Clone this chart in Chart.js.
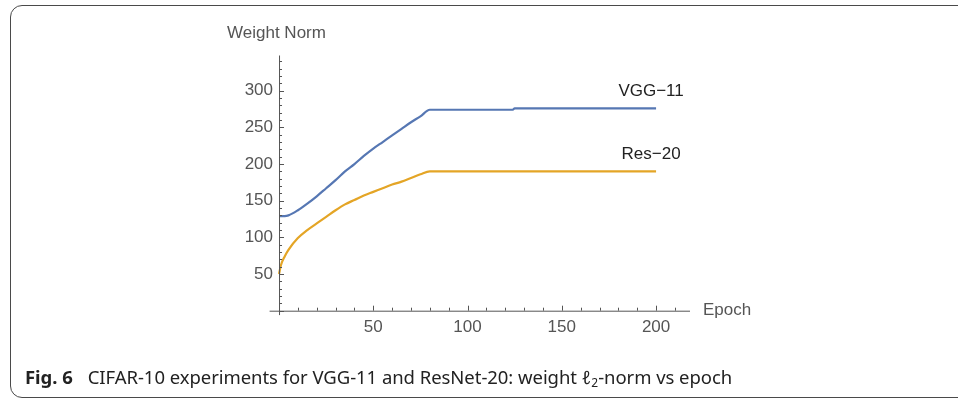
<!DOCTYPE html>
<html>
<head>
<meta charset="utf-8">
<script src="https://cdn.jsdelivr.net/npm/chart.js@4/dist/chart.umd.min.js"></script>
<style>
    html, body { margin: 0; padding: 0; background: #fff; }
    body { width: 958px; height: 398px; position: relative; overflow: hidden; }
    .frame {
        position: absolute; left: 10px; top: 5px; width: 980px; height: 393px;
        border: 1.3px solid #4a4a4a; border-radius: 12px; box-sizing: border-box;
    }
    #chartbox { position: absolute; left: 0; top: 0; width: 958px; height: 398px; }
    .caption {
        position: absolute; left: 25px; top: 364px; white-space: nowrap;
        font-family: "Noto Sans", sans-serif; font-size: 18.5px; color: #222;
        letter-spacing: -0.05px;
    }
    .caption b { margin-right: 15px; font-size: 18.5px; }
    .caption i { font-style: normal; }
    .caption sub { font-size: 12px; vertical-align: -3px; }
</style>
</head>
<body>
<div class="frame"></div>
<div id="chartbox"><canvas id="myChart" width="958" height="398"></canvas></div>
<div class="caption"><b>Fig. 6</b>CIFAR-10 experiments for VGG-11 and ResNet-20: weight <i>ℓ</i><sub>2</sub>-norm vs epoch</div>

<script>
// data
var epochs = [0, 1, 3, 5, 10, 15, 20, 25, 30, 35, 40, 45, 50, 55, 60, 65, 70, 75, 80, 124, 125, 200];
var vgg11  = [129, 129, 129, 130, 137, 146, 156, 167, 178, 190, 200, 211, 221, 230, 239, 248, 257, 265, 274, 274, 276, 276];
var res20  = [50, 62, 74, 83, 99, 110, 119, 128, 137, 145, 151, 157, 162, 167, 172, 176, 181, 186, 190, 190, 190, 190];
var seriesNames = ['VGG\u221211', 'Res\u221220'];
var xTicks = [50, 100, 150, 200];
var yTicks = [50, 100, 150, 200, 250, 300];

function toPoints(values) {
    return epochs.map(function (e, i) { return { x: e, y: values[i] }; });
}

// axes drawn Mathematica style: lines through the origin, ticks on the inner side
var mathAxes = {
    id: 'mathAxes',
    afterDatasetsDraw: function (chart) {
        var ctx = chart.ctx, xs = chart.scales.x, ys = chart.scales.y;
        var x0 = xs.getPixelForValue(0), y0 = ys.getPixelForValue(0);
        ctx.save();
        ctx.strokeStyle = '#555';
        ctx.lineWidth = 1;
        ctx.beginPath();
        ctx.moveTo(xs.left, y0 + 0.5); ctx.lineTo(xs.right, y0 + 0.5);
        ctx.moveTo(x0 + 0.5, ys.bottom); ctx.lineTo(x0 + 0.5, ys.top);
        for (var t = 0; t <= xs.max; t += 10) {
            var px = Math.round(xs.getPixelForValue(t)) + 0.5;
            ctx.moveTo(px, y0); ctx.lineTo(px, y0 - (t % 50 === 0 ? 5 : 3));
        }
        for (var v = 0; v <= ys.max; v += 10) {
            var py = Math.round(ys.getPixelForValue(v)) + 0.5;
            ctx.moveTo(x0, py); ctx.lineTo(x0 + (v % 50 === 0 ? 5 : 3), py);
        }
        ctx.stroke();

        ctx.fillStyle = '#555';
        ctx.font = '17px "Liberation Sans", Arial, sans-serif';
        ctx.textBaseline = 'middle';
        ctx.textAlign = 'center';
        xTicks.forEach(function (t) {
            ctx.fillText(String(t), xs.getPixelForValue(t), y0 + 17);
        });
        ctx.textAlign = 'right';
        yTicks.forEach(function (t) {
            ctx.fillText(String(t), x0 - 6, ys.getPixelForValue(t));
        });
        ctx.textAlign = 'left';
        ctx.fillText('Epoch', xs.right + 13, y0);
        ctx.fillText('Weight Norm', x0 - 52, ys.top - 22);

        // series labels next to the line ends
        ctx.fillStyle = '#222';
        ctx.textAlign = 'center';
        chart.data.datasets.forEach(function (ds) {
            var last = ds.data[ds.data.length - 1];
            ctx.fillText(ds.label, xs.getPixelForValue(last.x) - 5, ys.getPixelForValue(last.y) - 17);
        });
        ctx.restore();
    }
};

var ctx = document.getElementById('myChart').getContext('2d');
var myChart = new Chart(ctx, {
    type: 'line',
    data: {
        datasets: [{
            label: seriesNames[0],
            data: toPoints(vgg11),
            borderColor: '#5677b3',
            borderWidth: 2.2,
            pointRadius: 0,
            cubicInterpolationMode: 'monotone'
        }, {
            label: seriesNames[1],
            data: toPoints(res20),
            borderColor: '#e4a526',
            borderWidth: 2.2,
            pointRadius: 0,
            cubicInterpolationMode: 'monotone'
        }]
    },
    options: {
        responsive: false,
        animation: false,
        layout: { padding: { left: 269.6, right: 268, top: 55.5, bottom: 82.9 } },
        scales: {
            x: { type: 'linear', min: -5, max: 218, display: false },
            y: { type: 'linear', min: -6, max: 348, display: false }
        },
        plugins: {
            legend: { display: false },
            tooltip: { enabled: false }
        }
    },
    plugins: [mathAxes]
});
</script>
</body>
</html>
